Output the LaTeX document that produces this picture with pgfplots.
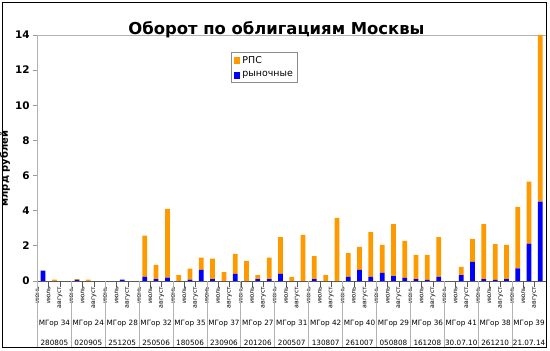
\documentclass[border=0pt]{standalone}
\usepackage{fontspec}
\setmainfont{DejaVu Sans}
\usepackage{pgfplots}
\usepackage{pgfplotstable}
\pgfplotsset{compat=1.18}
\definecolor{rps}{RGB}{255,153,0}
\definecolor{mkt}{RGB}{0,0,255}

\pgfplotstableread{
x rps mkt
0 0 0.59
1 0.08 0
2 0 0
3 0.05 0.06
4 0.08 0
5 0 0
6 0 0
7 0 0.08
8 0 0
9 2.35 0.23
10 0.81 0.11
11 3.91 0.19
12 0.34 0
13 0.62 0.08
14 0.70 0.63
15 1.16 0.11
16 0.51 0
17 1.14 0.40
18 1.14 0
19 0.23 0.11
20 1.22 0.11
21 2.10 0.40
22 0.23 0
23 2.62 0
24 1.31 0.11
25 0.34 0
26 3.59 0
27 1.36 0.23
28 1.31 0.63
29 2.55 0.23
30 1.59 0.46
31 2.96 0.28
32 2.11 0.17
33 1.37 0.11
34 1.42 0.06
35 2.27 0.23
36 0 0
37 0.46 0.34
38 1.31 1.08
39 3.13 0.11
40 2.04 0.06
41 1.94 0.11
42 3.49 0.72
43 3.53 2.13
44 9.48 4.52
}\data

\begin{document}
\begin{tikzpicture}[x=1bp,y=1bp]
\begin{axis}[
  at={(0,0)}, anchor=south west,
  scale only axis, width=509.5bp, height=246.5bp,
  ybar stacked, bar width=0.42,
  xmin=-0.5, xmax=44.5, ymin=0, ymax=14,
  enlargelimits=false,
  /pgf/number format/assume math mode=true,
  ytick={0,2,...,14},
  yticklabel style={font=\fontsize{10.5}{12}\selectfont\bfseries},
  xtick={-0.5,0.5,...,43.5},
  xticklabels={июнь,июль,август,июнь,июль,август,июнь,июль,август,июнь,июль,август,июнь,июль,август,
               июнь,июль,август,июнь,июль,август,июнь,июль,август,июнь,июль,август,июнь,июль,август,
               июнь,июль,август,июнь,июль,август,июнь,июль,август,июнь,июль,август,июнь,июль,август},
  xticklabel style={font=\fontsize{6.3}{7}\selectfont, rotate=90, anchor=east, inner sep=1bp},
  tick align=outside, tick pos=left,
  xtick style={draw=black!65, line width=0.7bp, /pgfplots/major tick length=6bp},
  ytick style={draw=black!40, line width=0.7bp, /pgfplots/major tick length=4bp},
  axis line style={draw=black!30, line width=0.8bp},
  legend style={at={(0.381,0.931)}, anchor=north west, draw=black!45, line width=0.6bp,
    font=\fontsize{9.5}{11}\selectfont, inner sep=2bp, row sep=3bp,
    legend cell align=left},
  legend image code/.code={\draw[#1,draw=none] (0bp,-3.5bp) rectangle (7bp,3.5bp);},
  reverse legend,
]
\addplot[fill=mkt, draw=none] table[x=x,y=mkt]{\data};
\addplot[fill=rps, draw=none] table[x=x,y=rps]{\data};
\legend{рыночные,РПС}
\end{axis}
% bottom axis line darker
\draw[black!65, line width=0.9bp] (0,0) -- (509.5,0);
% group separators
\foreach \k in {0,...,14} {
  \draw[black!30, line width=0.9bp] ({33.967*\k},0) -- ({33.967*\k},-66);
}
% group labels
\foreach \k/\n/\d in {0/МГор 34/280805,1/МГор 24/020905,2/МГор 28/251205,3/МГор 32/250506,
  4/МГор 35/180506,5/МГор 37/230906,6/МГор 27/201206,7/МГор 31/200507,8/МГор 42/130807,
  9/МГор 40/261007,10/МГор 29/050808,11/МГор 36/161208,12/МГор 41/30.07.10,13/МГор 38/261210,
  14/МГор 39/21.07.14} {
  \node[font=\fontsize{7.3}{8}\selectfont, inner sep=0pt] at ({33.967*\k+17},-42.5) {\n};
  \node[font=\fontsize{7.3}{8}\selectfont, inner sep=0pt] at ({33.967*\k+17},-61.5) {\d};
}
% y label
\node[rotate=90, font=\fontsize{10}{12}\selectfont\bfseries, inner sep=0pt] at (-32.5,112.5) {млрд рублей};
% title
\node[anchor=base, font=\fontsize{16.5}{18}\selectfont\bfseries, inner sep=0pt] at (239.5,247) {Оборот по облигациям Москвы};
% frame
\draw[black, line width=1.2bp] (-35,-66.5) rectangle (510,279);
\path (-36.5,-69.5) rectangle (513.5,281.5);
\end{tikzpicture}
\end{document}
